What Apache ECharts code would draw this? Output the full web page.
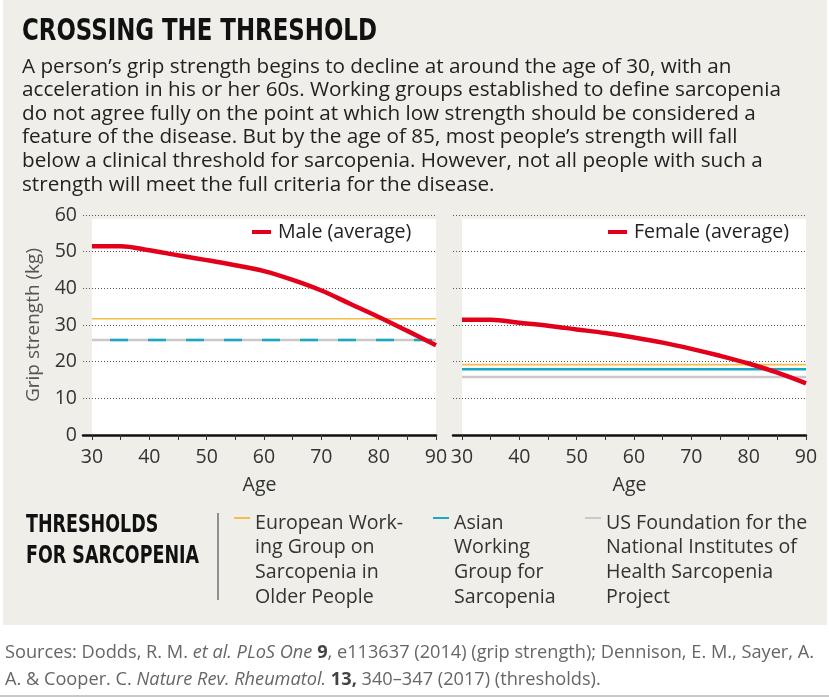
<!DOCTYPE html>
<html>
<head>
<meta charset="utf-8">
<script src="https://cdn.jsdelivr.net/npm/echarts@6/dist/echarts.min.js"></script>
<style>
html, body { margin: 0; padding: 0; background: #fff; }
#chart { width: 829px; height: 697px; }
</style>
</head>
<body>
<div id="chart"></div>
<script>
// grip strength by age
var ages = [30, 35, 40, 45, 50, 55, 60, 65, 70, 75, 80, 85, 90];
var maleGrip = [51.5, 51.5, 50.4, 49.0, 47.7, 46.3, 44.7, 42.3, 39.4, 35.8, 32.2, 28.4, 24.5];
var femaleGrip = [31.4, 31.4, 30.6, 29.8, 28.8, 27.8, 26.6, 25.2, 23.5, 21.6, 19.5, 17.0, 14.1];

// axis ticks
var ageLabels = [30, 40, 50, 60, 70, 80, 90];
var ageTicks = [30, 35, 40, 45, 50, 55, 60, 65, 70, 75, 80, 85, 90];

// thresholds: European, Asian, US
var thresholdKeys = ['European Work-\ning Group on\nSarcopenia in\nOlder People', 'Asian\nWorking\nGroup for\nSarcopenia', 'US Foundation for the\nNational Institutes of\nHealth Sarcopenia\nProject'];
var thresholdColors = ['#f5bf45', '#17a9c4', '#c9c9c9'];
var maleThresholds = [31.7, 25.9, 25.9];
var femaleThresholds = [19.2, 17.9, 15.8];

var FONT = '"Open Sans", "Liberation Sans", sans-serif';
var NARROW = '"DejaVu Sans Condensed", sans-serif';
var RED = '#e3001b';
var xMin = 30 - 60 * 9 / 344; // dotted grid starts a little left of age 30

var chart = echarts.init(document.getElementById('chart'));

function pairs(xs, ys) {
  return xs.map(function (x, i) { return [x, ys[i]]; });
}

function xAxisFor(i) {
  return {
    type: 'value', gridIndex: i, min: xMin, max: 90,
    axisLine: { show: true, onZero: false, lineStyle: { color: '#111', width: 2.5 } },
    axisTick: { show: true, customValues: ageTicks, length: 5, lineStyle: { color: '#333', width: 1 } },
    axisLabel: { customValues: ageLabels, fontSize: 19.5, color: '#333', margin: 12, fontFamily: FONT },
    splitLine: { show: false },
    name: 'Age', nameLocation: 'middle', nameGap: 40,
    nameTextStyle: { fontSize: 19.5, color: '#333', fontFamily: FONT }
  };
}

function yAxisFor(i) {
  var ax = {
    type: 'value', gridIndex: i, min: 0, max: 60, interval: 10,
    axisLine: { show: false },
    axisTick: { show: false },
    axisLabel: { show: i === 0, fontSize: 19.5, color: '#333', margin: 6, fontFamily: FONT },
    splitLine: { show: true, lineStyle: { color: '#555', width: 1, type: [1, 2] } }
  };
  if (i === 0) {
    ax.name = 'Grip strength (kg)';
    ax.nameLocation = 'middle';
    ax.nameGap = 40;
    ax.nameTextStyle = { fontSize: 19, color: '#555', fontFamily: FONT };
  }
  return ax;
}

function thresholdSeries(i, values) {
  // grey first so the dashed Asian line sits on top
  var order = [2, 0, 1];
  return order.map(function (k) {
    var dashed = (i === 0 && k === 1);
    return {
      name: 'thr' + i + k, type: 'line', xAxisIndex: i, yAxisIndex: i,
      data: [[30, values[k]], [90, values[k]]],
      showSymbol: false, silent: true, z: 2,
      lineStyle: { color: thresholdColors[k], width: k === 0 ? 1.6 : 2.5, type: dashed ? [18, 20] : 'solid', dashOffset: dashed ? -18 : 0 }
    };
  });
}

var series = [].concat(
  thresholdSeries(0, maleThresholds),
  thresholdSeries(1, femaleThresholds),
  [{
    name: 'Male (average)', type: 'line', xAxisIndex: 0, yAxisIndex: 0,
    data: pairs(ages, maleGrip), smooth: 0.35, showSymbol: false, z: 3,
    lineStyle: { color: RED, width: 4.5 }, itemStyle: { color: RED }
  }, {
    name: 'Female (average)', type: 'line', xAxisIndex: 1, yAxisIndex: 1,
    data: pairs(ages, femaleGrip), smooth: 0.35, showSymbol: false, z: 3,
    lineStyle: { color: RED, width: 4.5 }, itemStyle: { color: RED }
  }]
);

function legendFor(name, left) {
  return {
    data: [name], left: left, top: 222, padding: 0,
    itemWidth: 19, itemHeight: 4, icon: 'rect', selectedMode: false,
    textStyle: { fontSize: 19.6, color: '#222', fontFamily: FONT, padding: [0, 0, 0, 2] }
  };
}

chart.setOption({
  animation: false,
  backgroundColor: '#fff',
  textStyle: { fontFamily: FONT },
  grid: [
    { left: 83, top: 215, width: 353, height: 220 },
    { left: 453, top: 215, width: 353, height: 220 }
  ],
  xAxis: [xAxisFor(0), xAxisFor(1)],
  yAxis: [yAxisFor(0), yAxisFor(1)],
  legend: [legendFor('Male (average)', 252), legendFor('Female (average)', 608)],
  series: series
});

// white plot panels from the scales
function panel(i) {
  var a = chart.convertToPixel({ gridIndex: i }, [30, 58.9]);
  var b = chart.convertToPixel({ gridIndex: i }, [90, 0]);
  return { type: 'rect', z: -1, silent: true, shape: { x: a[0], y: a[1], width: b[0] - a[0], height: b[1] - a[1] }, style: { fill: '#fff' } };
}

var bodyText = [
  'A person\u2019s grip strength begins to decline at around the age of 30, with an',
  'acceleration in his or her 60s. Working groups established to define sarcopenia',
  'do not agree fully on the point at which low strength should be considered a',
  'feature of the disease. But by the age of 85, most people\u2019s strength will fall',
  'below a clinical threshold for sarcopenia. However, not all people with such a',
  'strength will meet the full criteria for the disease.'
].join('\n');

var keyX = [234, 433, 585];
var graphic = [
  { type: 'rect', z: -2, silent: true, shape: { x: 3, y: 0, width: 824, height: 625 }, style: { fill: '#efeee9' } },
  panel(0), panel(1),
  { type: 'text', x: 22, y: 32, scaleX: 0.82, style: { text: 'CROSSING THE THRESHOLD', fontSize: 31, fontWeight: 'bold', fontFamily: NARROW, fill: '#111', verticalAlign: 'middle' } },
  { type: 'text', x: 22, y: 55, style: { text: bodyText, fontSize: 20.7, lineHeight: 23.6, fontFamily: FONT, fill: '#222', verticalAlign: 'top' } },
  { type: 'text', x: 26, y: 510, scaleX: 0.81, style: { text: 'THRESHOLDS\nFOR SARCOPENIA', fontSize: 24, lineHeight: 31, fontWeight: 'bold', fontFamily: NARROW, fill: '#111', verticalAlign: 'top' } },
  { type: 'line', shape: { x1: 218, y1: 513, x2: 218, y2: 600 }, style: { stroke: '#333', lineWidth: 1 } },
  { type: 'line', shape: { x1: 0, y1: 696, x2: 829, y2: 696 }, style: { stroke: '#c8c8c8', lineWidth: 2 } }
];
thresholdKeys.forEach(function (t, k) {
  graphic.push({ type: 'line', shape: { x1: keyX[k], y1: 518, x2: keyX[k] + 16, y2: 518 }, style: { stroke: thresholdColors[k], lineWidth: 2 } });
  graphic.push({ type: 'text', x: keyX[k] + 21, y: 511, style: { text: t, fontSize: 19.6, lineHeight: 24.6, fontFamily: FONT, fill: '#333', verticalAlign: 'top' } });
});

var base = { fontSize: 18.2, lineHeight: 27, fontFamily: FONT, fill: '#666' };
graphic.push({
  type: 'text', x: 5, y: 639,
  style: {
    text: '{n|Sources: Dodds, R. M. }{i|et al. PLoS One }{b|9}{n|, e113637 (2014) (grip strength); Dennison, E. M., Sayer, A.}\n' +
          '{n|A. & Cooper. C. }{i|Nature Rev. Rheumatol.}{n| }{b|13,}{n| 340\u2013347 (2017) (thresholds).}',
    fontSize: 18.2, lineHeight: 27, fontFamily: FONT, fill: '#666', verticalAlign: 'top',
    rich: {
      n: base,
      i: Object.assign({}, base, { fontStyle: 'italic' }),
      b: Object.assign({}, base, { fontWeight: 'bold', fill: '#444' })
    }
  }
});

chart.setOption({ graphic: graphic });
</script>
</body>
</html>
